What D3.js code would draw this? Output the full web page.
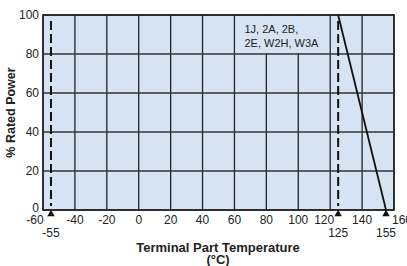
<!DOCTYPE html>
<html>
<head>
<meta charset="utf-8">
<script src="https://cdn.jsdelivr.net/npm/d3@7"></script>
<style>
body { margin: 0; background: #fff; }
text { font-family: "Liberation Sans", Arial, sans-serif; }
</style>
</head>
<body>
<svg id="chart" width="407" height="266"></svg>
<script>
var xTicks = [-60, -40, -20, 0, 20, 40, 60, 80, 100, 120, 140, 160],
    yTicks = [0, 20, 40, 60, 80, 100],
    markTemps = [-55, 125, 155],
    dashTemps = [-55, 125],
    derateTemp = [125, 155],
    deratePower = [100, 0],
    noteLines = ["1J, 2A, 2B,", "2E, W2H, W3A"];

var svg = d3.select("#chart"),
    m = {left: 43, top: 15, right: 13, bottom: 56},
    w = 407 - m.left - m.right,
    h = 266 - m.top - m.bottom;

var x = d3.scaleLinear().domain([-60, 160]).range([0, w]),
    y = d3.scaleLinear().domain([0, 100]).range([h, 0]);

// tick labels next to a marker are pushed aside
var nudge = {"-60": -8, "120": -6, "160": 8};

var g = svg.append("g")
    .attr("transform", "translate(" + m.left + "," + m.top + ")");

g.append("rect")
    .attr("width", w)
    .attr("height", h)
    .attr("fill", "#d5e3f2");

// grid
g.selectAll("line.vg")
    .data(xTicks)
    .enter().append("line")
    .attr("x1", function(d) { return x(d); })
    .attr("x2", function(d) { return x(d); })
    .attr("y1", 0)
    .attr("y2", h)
    .attr("stroke", "#222")
    .attr("stroke-width", 1.3);

g.selectAll("line.hg")
    .data(yTicks)
    .enter().append("line")
    .attr("x1", 0)
    .attr("x2", w)
    .attr("y1", function(d) { return y(d); })
    .attr("y2", function(d) { return y(d); })
    .attr("stroke", "#333")
    .attr("stroke-width", 1.3);

// note box covers grid
g.append("rect")
    .attr("x", x(60) + 1)
    .attr("y", y(100) + 1)
    .attr("width", x(120) - x(60) - 2)
    .attr("height", y(80) - y(100) - 2)
    .attr("fill", "#d5e3f2");

g.selectAll("text.note")
    .data(noteLines)
    .enter().append("text")
    .attr("x", x(60) + 10)
    .attr("y", function(d, i) { return 18 + i * 14; })
    .attr("font-size", 11)
    .attr("fill", "#222")
    .text(function(d) { return d; });

// frame
g.append("rect")
    .attr("width", w)
    .attr("height", h)
    .attr("fill", "none")
    .attr("stroke", "#222")
    .attr("stroke-width", 1.6);

// dashed limits
g.selectAll("line.dash")
    .data(dashTemps)
    .enter().append("line")
    .attr("x1", function(d) { return x(d); })
    .attr("x2", function(d) { return x(d); })
    .attr("y1", 6)
    .attr("y2", h - 4)
    .attr("stroke", "#111")
    .attr("stroke-width", 2)
    .attr("stroke-dasharray", "9,4");

// derating curve
var line = d3.line()
    .x(function(d) { return x(d[0]); })
    .y(function(d) { return y(d[1]); });

g.append("path")
    .datum(d3.zip(derateTemp, deratePower))
    .attr("d", line)
    .attr("fill", "none")
    .attr("stroke", "#111")
    .attr("stroke-width", 1.8);

// axis labels
g.selectAll("text.xt")
    .data(xTicks)
    .enter().append("text")
    .attr("x", function(d) { return x(d) + (nudge[d] || 0); })
    .attr("y", h + 14)
    .attr("text-anchor", "middle")
    .attr("font-size", 12)
    .attr("fill", "#222")
    .text(function(d) { return d; });

g.selectAll("text.yt")
    .data(yTicks)
    .enter().append("text")
    .attr("x", -4)
    .attr("y", function(d) { return y(d) + (d === 0 ? 2 : 4); })
    .attr("text-anchor", "end")
    .attr("font-size", 12)
    .attr("fill", "#222")
    .text(function(d) { return d; });

// markers
g.selectAll("path.mk")
    .data(markTemps)
    .enter().append("path")
    .attr("d", d3.symbol().type(d3.symbolTriangle).size(24))
    .attr("transform", function(d) { return "translate(" + x(d) + "," + (h + 4) + ")"; })
    .attr("fill", "#111");

g.selectAll("text.mk")
    .data(markTemps)
    .enter().append("text")
    .attr("x", function(d) { return x(d); })
    .attr("y", h + 27)
    .attr("text-anchor", "middle")
    .attr("font-size", 12)
    .attr("fill", "#222")
    .text(function(d) { return d; });

// titles
g.append("text")
    .attr("x", 175)
    .attr("y", h + 42)
    .attr("text-anchor", "middle")
    .attr("font-size", 13)
    .attr("font-weight", "bold")
    .attr("fill", "#222")
    .text("Terminal Part Temperature");

g.append("text")
    .attr("x", 175)
    .attr("y", h + 54)
    .attr("text-anchor", "middle")
    .attr("font-size", 13)
    .attr("font-weight", "bold")
    .attr("fill", "#222")
    .text("(°C)");

g.append("text")
    .attr("transform", "translate(-28," + (h / 2) + ") rotate(-90)")
    .attr("text-anchor", "middle")
    .attr("font-size", 12.5)
    .attr("font-weight", "bold")
    .attr("fill", "#222")
    .text("% Rated Power");
</script>
</body>
</html>
